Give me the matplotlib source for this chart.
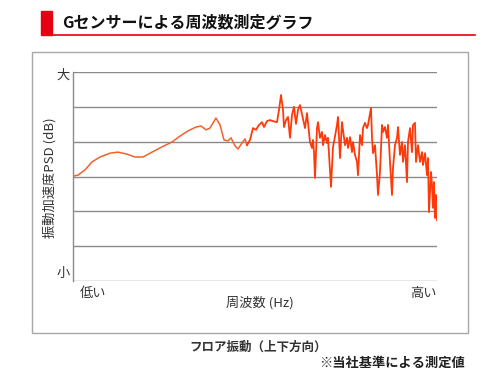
import numpy as np
import matplotlib.pyplot as plt
from matplotlib.patches import Rectangle
from matplotlib.lines import Line2D

plt.rcParams['font.family'] = ['Noto Sans CJK JP', 'DejaVu Sans']

# frequency bin index (arbitrary, low -> high) and PSD level (0 = 小, 60 = 大)
freq_smooth = [0, 5, 12, 19, 27, 37, 45, 53, 62, 70, 79, 89, 99, 107, 115,
               123, 128, 133, 137, 143, 147, 151, 155, 158, 162, 165, 169, 172, 174]
psd_smooth = [30.1, 30.4, 31.9, 34.2, 35.6, 36.7, 37.0, 36.5, 35.6, 35.6, 37.0,
              38.5, 39.9, 41.6, 43.1, 44.2, 44.5, 43.4, 43.9, 46.8, 44.8, 40.5,
              40.2, 41.1, 38.8, 37.9, 39.6, 40.8, 39.0]

freq_noisy = [174, 177, 180, 183, 186, 189, 191, 194, 197, 200, 204, 206, 208, 210,
              211, 213, 215, 217, 219, 221, 223, 225,
              227, 232, 234, 237, 239, 240, 241, 242, 244, 245, 247, 249, 250, 252,
              254, 255, 258, 260, 261, 264, 265, 267, 269, 270, 272, 274, 275, 277,
              279, 280, 282, 284, 285, 287, 289, 290, 292, 294, 295,
              298, 299, 300, 302, 304, 305, 307, 309, 310, 312, 314, 315, 317, 319,
              320, 322, 324, 325, 327, 329, 330, 332, 334, 335, 337, 339, 340, 342,
              343, 345, 347, 349, 350, 352, 354, 355, 356, 358, 359, 360, 361, 362,
              363, 364]
psd_noisy = [39.0, 40.5, 43.9, 43.4, 44.8, 45.6, 44.2, 45.9, 46.2, 45.9, 45.6, 49.1,
             53.4, 49.1, 44.2, 46.2, 47.1, 41.1, 47.7, 50.0, 45.1, 49.1,
             50.5, 43.9, 48.2, 39.9, 38.2, 40.5, 37.0, 29.6, 43.9, 45.6, 41.1, 42.8,
             39.0, 41.9, 39.6, 41.1, 27.0, 38.5, 39.9, 44.8, 47.1, 35.3, 45.6, 43.4,
             39.0, 41.1, 38.2, 41.3, 37.0, 39.9, 36.2, 34.2, 30.4, 41.9, 39.0, 43.9,
             45.4, 43.9, 44.8,
             49.7, 41.1, 36.7, 39.0, 30.4, 24.7, 31.3, 44.8, 42.8, 44.2, 41.1, 44.8,
             34.2, 24.7, 32.4, 39.0, 41.1, 44.2, 36.2, 39.9, 34.2, 39.0, 28.4, 39.9,
             43.9, 37.0, 44.8, 45.4, 34.2, 39.0, 34.2, 37.0, 33.3, 36.7, 30.4, 35.3,
             19.8, 31.3, 27.6, 21.0, 28.4, 18.1, 24.7, 17.5]

grid_levels = [0, 10, 20, 30, 40, 50, 60]

W, H = 484, 376
fig = plt.figure(figsize=(W / 100, H / 100), dpi=100)

def fx(px):
    return px / W

def fy(py):
    return 1 - py / H

# title block
fig.patches.append(Rectangle((fx(41), fy(35)), fx(52) - fx(41), fy(11) - fy(35),
                             transform=fig.transFigure, color='#e60012', zorder=3))
fig.lines.append(Line2D([fx(52), fx(475)], [fy(34.5), fy(34.5)],
                        transform=fig.transFigure, color='#e60012', lw=1.2))
fig.text(fx(62), fy(22), 'Gセンサーによる周波数測定グラフ', fontsize=11.5,
         fontweight='bold', va='center', ha='left', color='#111111')

# outer frame
fig.patches.append(Rectangle((fx(32), fy(333)), fx(468) - fx(32), fy(52) - fy(333),
                             transform=fig.transFigure, fill=False,
                             edgecolor='#a8a8a8', lw=1))

ax = fig.add_axes([fx(73), fy(281), fx(437) - fx(73), fy(72) - fy(281)])
ax.set_xlim(0, 364)
ax.set_ylim(0, 60)
for g in grid_levels:
    ax.axhline(g, color='#8a8a8a', lw=1, zorder=1)
ax.plot(freq_smooth, psd_smooth, color='#f5602c', lw=1.1, zorder=2)
ax.plot(freq_noisy, psd_noisy, color='#ff3a0a', lw=1.3, zorder=2)
for s in ['top', 'right', 'bottom']:
    ax.spines[s].set_visible(False)
ax.spines['left'].set_color('#8a8a8a')
ax.spines['left'].set_linewidth(1)
ax.set_xticks([])
ax.set_yticks([])
ax.patch.set_alpha(0)

tc = '#333333'
fig.text(fx(63), fy(75), '大', fontsize=9.5, ha='center', va='center', color=tc)
fig.text(fx(63), fy(273), '小', fontsize=9.5, ha='center', va='center', color=tc)
fig.text(fx(80), fy(294), '低い', fontsize=9.5, ha='left', va='center', color=tc)
fig.text(fx(437), fy(293), '高い', fontsize=9.5, ha='right', va='center', color=tc)
fig.text(fx(260), fy(303), '周波数 (Hz)', fontsize=9.5, ha='center', va='center', color=tc)
fig.text(fx(50), fy(178), '振動加速度PSD (dB)', fontsize=9.5, ha='center', va='center',
         rotation=90, color=tc)

fig.text(fx(258), fy(347), 'フロア振動（上下方向）', fontsize=9, fontweight='bold',
         ha='center', va='center', color='#333333')
fig.text(fx(465), fy(363), '※当社基準による測定値', fontsize=9.5, fontweight='bold',
         ha='right', va='center', color='#222222')

fig.savefig('out.png', dpi=100)
